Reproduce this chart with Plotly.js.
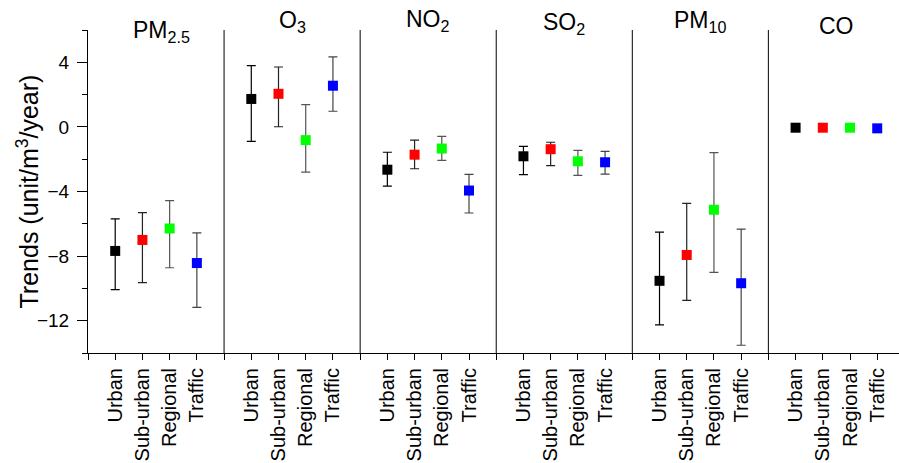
<!DOCTYPE html>
<html><head><meta charset="utf-8">
<script src="https://cdn.plot.ly/plotly-3.0.1.min.js"></script>
<style>html,body{margin:0;padding:0;background:#fff}</style>
</head><body><div id="chart" style="width:899px;height:463px"></div>
<script>
const pollutants = ['PM<sub>2.5</sub>','O<sub>3</sub>','NO<sub>2</sub>','SO<sub>2</sub>','PM<sub>10</sub>','CO'];
const categories = ['Urban','Sub-urban','Regional','Traffic'];
const colors = ['#000000','#ff0000','#00ff00','#0000ff'];
const barColors = ['#000000','#222222','#555555','#444444'];

// trend values per category (order: PM2.5, O3, NO2, SO2, PM10, CO)
const urban      = [-7.68, 1.73, -2.65, -1.82, -9.53, -0.05];
const suburban   = [-7.00, 2.05, -1.72, -1.38, -7.93, -0.05];
const regional   = [-6.29, -0.82, -1.34, -2.13, -5.13, -0.05];
const traffic    = [-8.43, 2.55, -3.94, -2.19, -9.68, -0.09];
// upper / lower error lengths
const urbanUp    = [1.99, 2.06, 1.08, 0.62, 3.01, 0.10];
const urbanDn    = [2.39, 2.63, 1.02, 1.14, 2.73, 0.10];
const suburbanUp = [1.69, 1.66, 0.90, 0.43, 3.20, 0.12];
const suburbanDn = [2.64, 2.04, 0.87, 1.02, 2.81, 0.12];
const regionalUp = [1.73, 2.20, 0.75, 0.68, 3.54, 0.12];
const regionalDn = [2.43, 1.98, 0.73, 0.87, 3.88, 0.12];
const trafficUp  = [1.87, 1.79, 1.00, 0.68, 3.35, 0.12];
const trafficDn  = [2.75, 1.58, 1.39, 0.73, 3.84, 0.12];

const values = [urban, suburban, regional, traffic];
const ups = [urbanUp, suburbanUp, regionalUp, trafficUp];
const dns = [urbanDn, suburbanDn, regionalDn, trafficDn];

// panel-title pixel nudges (layout styling)
const titleDx = [5, 0, 0, 0, 0, 0];
const titleDy = [-5, 5, 6, 3, 5, 0];

const nCat = categories.length, step = nCat + 1;
const traces = categories.map((c, ci) => ({
  type: 'scatter', mode: 'markers', name: c,
  x: pollutants.map((p, pi) => pi * step + ci + 1),
  y: values[ci],
  marker: {symbol: 'square', size: 10, color: colors[ci]},
  error_y: {type: 'data', symmetric: false, array: ups[ci], arrayminus: dns[ci],
            color: barColors[ci], thickness: 1.2, width: 4.5},
  showlegend: false, cliponaxis: false
}));

const tickvals = [], ticktext = [];
pollutants.forEach((p, pi) => {
  categories.forEach((c, ci) => { tickvals.push(pi * step + ci + 1); ticktext.push(c); });
});

const shapes = [];
for (let pi = 1; pi < pollutants.length; pi++) {
  shapes.push({type: 'line', xref: 'x', yref: 'paper', x0: pi * step, x1: pi * step, y0: 0, y1: 1,
               line: {color: '#000', width: 1}});
}
const annotations = pollutants.map((p, pi) => ({
  text: p, xref: 'x', yref: 'paper', x: pi * step + step / 2, y: 1.012, yanchor: 'middle',
  xshift: titleDx[pi], yshift: titleDy[pi],
  showarrow: false, font: {size: 23, color: '#000'}
}));
annotations.push({
  text: 'Trends (unit/m<sup>3</sup>/year)', xref: 'paper', yref: 'paper',
  x: (27 - 88) / 811, y: 0.5, xanchor: 'center', yanchor: 'middle', textangle: -90,
  showarrow: false, font: {size: 25, color: '#000'}
});

const layout = {
  width: 899, height: 463,
  margin: {l: 88, r: 0, t: 30, b: 110},
  paper_bgcolor: '#fff', plot_bgcolor: '#fff',
  font: {family: 'Arial, "Liberation Sans", sans-serif', color: '#000'},
  xaxis: {range: [0, 29.8], tickvals: tickvals, ticktext: ticktext, tickangle: -90,
          ticks: 'outside', ticklen: 6, tickwidth: 1, tickcolor: '#000',
          minor: {dtick: 1, tick0: 0, ticks: 'outside', ticklen: 6, tickwidth: 1, tickcolor: '#000', showgrid: false},
          showline: true, linecolor: '#000', linewidth: 1, showgrid: false, zeroline: false,
          tickfont: {size: 20}},
  yaxis: {range: [-14, 6], dtick: 4, tick0: 0, ticks: 'outside', ticklen: 10, tickwidth: 1,
          tickcolor: '#000', showline: true, linecolor: '#000', linewidth: 1,
          showgrid: false, zeroline: false, tickfont: {size: 19}, ticklabelstandoff: 4,
          minor: {dtick: 2, ticks: 'outside', ticklen: 5, tickcolor: '#000', showgrid: false}},
  shapes: shapes, annotations: annotations
};
Plotly.newPlot('chart', traces, layout, {displayModeBar: false, staticPlot: true});
</script></body></html>
